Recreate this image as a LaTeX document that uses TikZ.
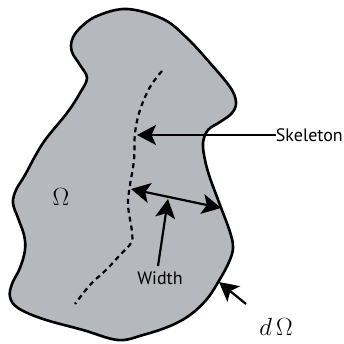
\documentclass[tikz,border=0pt]{standalone}
\usepackage{amsmath, amssymb}
\usepackage{fontspec}
\newfontfamily\labelfont{PT Sans}
\usepackage{tikz}
\usetikzlibrary{arrows.meta}

\definecolor{regiongray}{RGB}{181,185,190}

\tikzset{
  pointer/.style={line width=2.2pt, -{Stealth[length=19pt, width=20pt, inset=4.5pt]}},
  labeltext/.style={font=\labelfont\fontsize{18}{20}\selectfont, inner sep=0pt}
}

\begin{document}
\begin{tikzpicture}[x=1pt, y=-1pt]
        \useasboundingbox (0,0) rectangle (344,344);

        % Region Omega
        \draw[line width=2.6pt, fill=regiongray] plot[smooth cycle, tension=0.6] coordinates {
          (127,9) (163,19) (187,38) (210,63) (230,87) (236,102) (232,113) (220,122)
          (208,130) (203,143) (205,160) (210,178) (220,205) (230,232) (233,248)
          (229,262) (220,279) (207,299) (190,315) (170,326) (143,335) (118,340)
          (83,330) (43,319) (18,308) (10,297) (12,284) (20,268) (25,250) (24,235)
          (18,218) (13,203) (16,190) (25,175) (43,143) (67,113) (80,93) (87,78)
          (80,65) (72,52) (72,40) (80,28) (97,16)};

        % Skeleton (dashed)
        \draw[line width=2.2pt, dash pattern=on 5pt off 4pt] plot[smooth, tension=0.6] coordinates {
          (162,71) (150,87) (140,110) (135,133) (134,160) (130,185) (128,205)
          (132,232) (131,243) (120,255) (107,269) (90,285) (75,304)};

        % Labels
        \node (omega) at (61,197) {\fontsize{31}{33}\selectfont$\Omega$};
        \node[labeltext, anchor=east] (skel) at (343,135) {Skeleton};
        \node[labeltext] (width) at (160,278) {Width};
        \node (bound) at (276,327) {\fontsize{31}{33}\selectfont$d\,\Omega$};

        % Arrow ends
        \coordinate (skelpt) at (137,135);
        \coordinate (wleft) at (131,189);
        \coordinate (wright) at (221,208);
        \coordinate (wmid) at (168,199);
        \coordinate (edge) at (219,282);
        \coordinate (wtail) at (158,266);
        \coordinate (btail) at (246,304);

        % Arrows
        \draw[pointer] (skel.west) -- (skelpt);
        \draw[pointer, {Stealth[length=19pt, width=20pt, inset=4.5pt]}-{Stealth[length=19pt, width=20pt, inset=4.5pt]}] (wleft) -- (wright);
        \draw[pointer] (wtail) -- (wmid);
        \draw[pointer] (btail) -- (edge);
    \end{tikzpicture}
\end{document}
